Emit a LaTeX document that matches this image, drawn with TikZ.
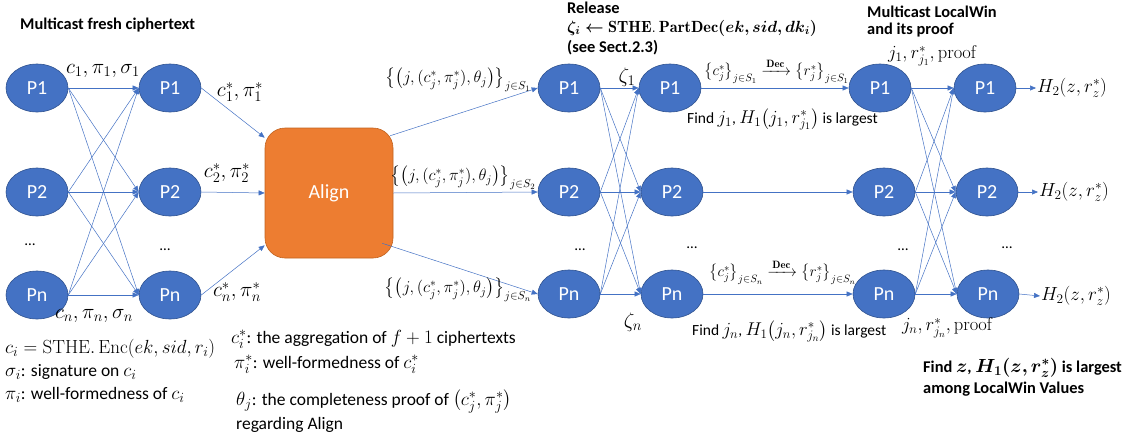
\RequirePackage{fix-cm}
\documentclass[tikz,border=0pt]{standalone}
\usepackage{amsmath}
\usepackage{bm}
\usepackage{fontspec}
\newfontfamily\carl{Carlito}
\usetikzlibrary{shapes.geometric,arrows.meta,calc}
\definecolor{pblue}{HTML}{4472C4}
\definecolor{pedge}{HTML}{2F528F}
\definecolor{aorange}{HTML}{ED7D31}
\definecolor{aedge}{HTML}{C0621F}
\DeclareMathSizes{17.5}{19}{14}{10.5}
\DeclareMathSizes{15.5}{18.5}{13}{10}
\DeclareMathSizes{16.4}{19}{13.5}{10}
\newcommand{\relform}{$\bm{\zeta_i\leftarrow}\mathbf{STHE.\,PartDec}\bm{(ek,sid,dk_i)}$}
\newcommand{\findz}{Find $\bm{z}$, $\bm{H_1(z,r_z^*)}$ is largest}
\begin{document}
\begin{tikzpicture}[x=1pt,y=-1pt,
 party/.style={ellipse, fill=pblue, draw=pedge, line width=0.6pt, minimum width=62pt, minimum height=48pt, inner sep=0pt, text=white, font=\carl\fontsize{20}{22}\selectfont},
 link/.style={draw=pblue, line width=0.5pt, -{Triangle[length=6pt,width=5pt]}},
 lbl/.style={inner sep=0pt, font=\fontsize{21}{24}\selectfont},
 slbl/.style={inner sep=0pt, font=\fontsize{16.5}{19}\selectfont},
 dlbl/.style={inner sep=0pt, anchor=west, font=\fontsize{15.2}{18}\selectfont},
 txt/.style={inner sep=0pt, anchor=west, font=\carl\fontsize{17.5}{20}\selectfont},
 ftxt/.style={inner sep=0pt, anchor=west, font=\carl\fontsize{15.5}{18}\selectfont},
 btxt/.style={inner sep=0pt, anchor=west, font=\carl\bfseries\fontsize{16.4}{19}\selectfont},
 dots/.style={inner sep=0pt, font=\carl\fontsize{15}{18}\selectfont}]
\useasboundingbox (0,0) rectangle (1123,442);

% parties
\node[party] (A1) at (37,88) {P1};
\node[party] (A2) at (37,192) {P2};
\node[party] (An) at (37,295) {Pn};
\node[party] (B1) at (170,88) {P1};
\node[party] (B2) at (170,192) {P2};
\node[party] (Bn) at (170,295) {Pn};
\node[party] (C1) at (569,88) {P1};
\node[party] (C2) at (569,192) {P2};
\node[party] (Cn) at (569,294) {Pn};
\node[party] (D1) at (670,88) {P1};
\node[party] (D2) at (672,192) {P2};
\node[party] (Dn) at (672,294) {Pn};
\node[party] (E1) at (880,88) {P1};
\node[party] (E2) at (884,192) {P2};
\node[party] (En) at (884,294) {Pn};
\node[party] (F1) at (985,88) {P1};
\node[party] (F2) at (987,192) {P2};
\node[party] (Fn) at (988,294) {Pn};

% dots
\node[dots] (dA) at (30,245) {…};
\node[dots] (dB) at (165,250) {…};
\node[dots] (dC) at (580,250) {…};
\node[dots] (dD) at (692,248) {…};
\node[dots] (dE) at (903,250) {…};
\node[dots] (dF) at (1007,248) {…};

% align box
\node[draw=aedge, fill=aorange, line width=0.6pt, rounded corners=20pt, minimum width=128pt, minimum height=130pt, text=white, font=\carl\fontsize{20}{22}\selectfont] (align) at (329,193) {Align};

% bipartite links
\foreach \s in {A1,A2,An}{\foreach \t in {B1,B2,Bn}{\draw[link] (\s.east) -- (\t.west);}}
\foreach \s in {C1,C2,Cn}{\foreach \t in {D1,D2,Dn}{\draw[link] (\s.east) -- (\t.west);}}
\foreach \s in {E1,E2,En}{\foreach \t in {F1,F2,Fn}{\draw[link] (\s.east) -- (\t.west);}}

% to and from align
\draw[link] (B1.east) -- ([yshift=-10pt]align.north west);
\draw[link] (B2.east) -- (align.west);
\draw[link] (Bn.east) -- ([yshift=13pt]align.south west);
\draw[link] ([xshift=-3pt,yshift=-8pt]align.north east) -- (C1.west);
\draw[link] (align.east) -- (C2.west);
\draw[link] ([xshift=-11pt,yshift=15pt]align.south east) -- (Cn.west);

% D to E
\draw[link] (D1.east) -- (E1.west);
\draw[link] (D2.east) -- (E2.west);
\draw[link] (Dn.east) -- (En.west);

% outputs
\node[inner sep=1pt, anchor=west, font=\fontsize{19}{22}\selectfont] (h1) at (1036,88) {$H_2(z,r_z^*)$};
\node[inner sep=1pt, anchor=west, font=\fontsize{19}{22}\selectfont] (h2) at (1038,192) {$H_2(z,r_z^*)$};
\node[inner sep=1pt, anchor=west, font=\fontsize{19}{22}\selectfont] (hn) at (1040,296) {$H_2(z,r_z^*)$};
\draw[link] (F1.east) -- (h1.west);
\draw[link] (F2.east) -- (h2.west);
\draw[link] (Fn.east) -- (hn.west);

% labels
\node[btxt] (t1) at (20,25) {Multicast fresh ciphertext};
\node[lbl] (l1) at (103,71) {$c_1,\pi_1,\sigma_1$};
\node[lbl] (l2) at (94,316) {$c_n,\pi_n,\sigma_n$};
\node[lbl] (l3) at (240,92) {$c_1^*,\pi_1^*$};
\node[lbl] (l4) at (227,173) {$c_2^*,\pi_2^*$};
\node[lbl] (l5) at (237,292) {$c_n^*,\pi_n^*$};
\node[slbl] (s1) at (458,80) {$\big\{\big(j,(c_j^*,\pi_j^*),\theta_j\big)\big\}_{j\in S_1}$};
\node[slbl] (s2) at (463,178) {$\big\{\big(j,(c_j^*,\pi_j^*),\theta_j\big)\big\}_{j\in S_2}$};
\node[slbl] (s3) at (458,290) {$\big\{\big(j,(c_j^*,\pi_j^*),\theta_j\big)\big\}_{j\in S_n}$};

\node[btxt] (r1) at (567,8) {Release};
\node[anchor=west, inner sep=0pt, font=\fontsize{16.2}{19}\selectfont] (r2) at (567,28) {\relform};
\node[btxt] (r3) at (567,48) {(see Sect.2.3)};
\node[lbl] (z1) at (627,77) {$\zeta_1$};
\node[lbl] (zn) at (633,322) {$\zeta_n$};

\node[dlbl] (dec1) at (704,71) {$\big\{c_j^*\big\}_{j\in S_1}\xrightarrow{\,\mathbf{Dec}\,}\big\{r_j^*\big\}_{j\in S_1}$};
\node[dlbl] (decn) at (709,272) {$\big\{c_j^*\big\}_{j\in S_n}\xrightarrow{\,\mathbf{Dec}\,}\big\{r_j^*\big\}_{j\in S_n}$};
\node[ftxt] (f1) at (687,119) {Find $j_1$, $H_1\big(j_1,r_{j_1}^*\big)$ is largest};
\node[ftxt] (fn) at (692,331) {Find $j_n$, $H_1\big(j_n,r_{j_n}^*\big)$ is largest};

\node[btxt] (m1) at (867,12) {Multicast LocalWin};
\node[btxt] (m2) at (867,30) {and its proof};
\node[inner sep=0pt, font=\fontsize{18.5}{22}\selectfont] (p1) at (932,56) {$j_1,r_{j_1}^*,\mathrm{proof}$};
\node[inner sep=0pt, font=\fontsize{18.5}{22}\selectfont] (pn) at (947,328) {$j_n,r_{j_n}^*,\mathrm{proof}$};
\node[btxt] (fz1) at (923,368) {\findz};
\node[btxt] (fz2) at (923,389) {among LocalWin Values};

% legend
\node[txt] (g1) at (5,349) {$c_i=\mathrm{STHE.\,Enc}(ek,sid,r_i)$};
\node[txt] (g2) at (5,372) {$\sigma_i$: signature on $c_i$};
\node[txt] (g3) at (5,395) {$\pi_i$: well-formedness of $c_i$};
\node[txt] (g4) at (231,339) {$c_i^*$: the aggregation of $f+1$ ciphertexts};
\node[txt] (g5) at (234,364) {$\pi_i^*$: well-formedness of $c_i^*$};
\node[txt] (g6) at (236,401) {$\theta_j$: the completeness proof of $\big(c_j^*,\pi_j^*\big)$};
\node[txt] (g7) at (236,425) {regarding Align};
\end{tikzpicture}
\end{document}
